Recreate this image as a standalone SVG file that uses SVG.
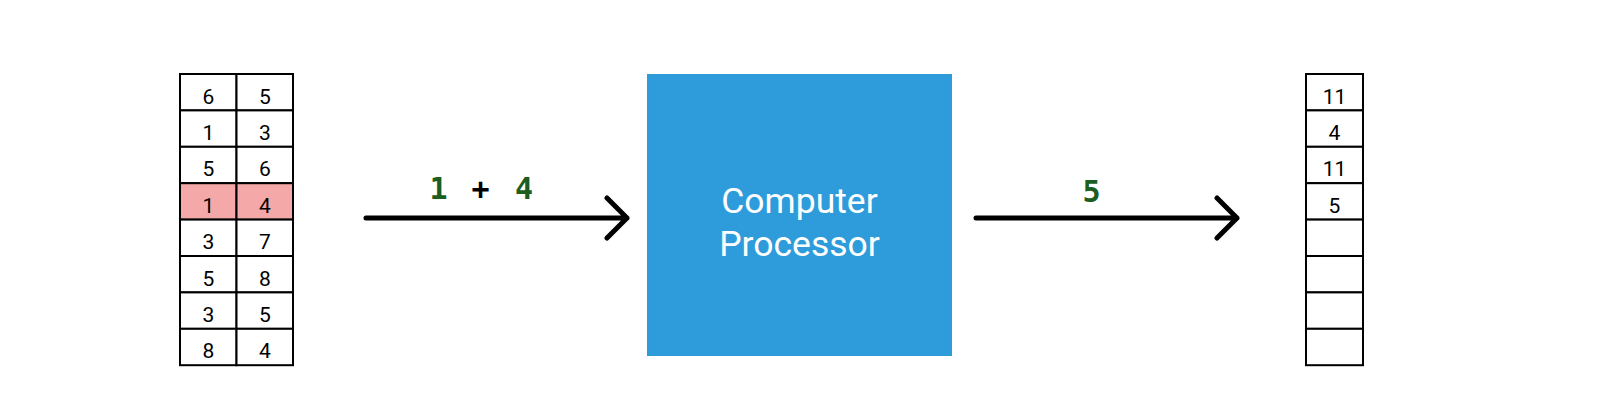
<svg xmlns="http://www.w3.org/2000/svg" width="1600" height="400" viewBox="0 0 1600 400">
<style>
.cell{fill:#fff;stroke:#000;stroke-width:2}
.hl{fill:#F4A9A8;stroke:#000;stroke-width:2}
.num{font-family:Roboto,"Liberation Sans",sans-serif;font-size:21px;fill:#000;text-anchor:middle}
.conn{stroke:#000;stroke-width:5;fill:none;stroke-linecap:round;stroke-linejoin:round}
.lbl{font-family:"DejaVu Sans Mono","Liberation Mono",monospace;font-weight:bold;font-size:30px;text-anchor:middle}
</style>
<rect width="1600" height="400" fill="#fff"/>
<g id="input-table">
<rect class="cell" x="180" y="74" width="56.5" height="36.4"/><rect class="cell" x="236.5" y="74" width="56.5" height="36.4"/>
<rect class="cell" x="180" y="110.4" width="56.5" height="36.4"/><rect class="cell" x="236.5" y="110.4" width="56.5" height="36.4"/>
<rect class="cell" x="180" y="146.8" width="56.5" height="36.4"/><rect class="cell" x="236.5" y="146.8" width="56.5" height="36.4"/>
<rect class="hl" x="180" y="183.2" width="56.5" height="36.4"/><rect class="hl" x="236.5" y="183.2" width="56.5" height="36.4"/>
<rect class="cell" x="180" y="219.6" width="56.5" height="36.4"/><rect class="cell" x="236.5" y="219.6" width="56.5" height="36.4"/>
<rect class="cell" x="180" y="256" width="56.5" height="36.4"/><rect class="cell" x="236.5" y="256" width="56.5" height="36.4"/>
<rect class="cell" x="180" y="292.4" width="56.5" height="36.4"/><rect class="cell" x="236.5" y="292.4" width="56.5" height="36.4"/>
<rect class="cell" x="180" y="328.8" width="56.5" height="36.4"/><rect class="cell" x="236.5" y="328.8" width="56.5" height="36.4"/>
<text class="num" x="208.5" y="103.5">6</text><text class="num" x="265" y="103.5">5</text>
<text class="num" x="208.5" y="139.9">1</text><text class="num" x="265" y="139.9">3</text>
<text class="num" x="208.5" y="176.3">5</text><text class="num" x="265" y="176.3">6</text>
<text class="num" x="208.5" y="212.7">1</text><text class="num" x="265" y="212.7">4</text>
<text class="num" x="208.5" y="249.1">3</text><text class="num" x="265" y="249.1">7</text>
<text class="num" x="208.5" y="285.5">5</text><text class="num" x="265" y="285.5">8</text>
<text class="num" x="208.5" y="321.9">3</text><text class="num" x="265" y="321.9">5</text>
<text class="num" x="208.5" y="358.3">8</text><text class="num" x="265" y="358.3">4</text>
</g>
<g id="processor">
<rect x="647" y="74" width="305" height="282" fill="#2E9CDB"/>
<text x="799.5" y="213" font-family="Roboto,'Liberation Sans',sans-serif" font-size="35.5" fill="#fff" text-anchor="middle">Computer</text>
<text x="799.5" y="256" font-family="Roboto,'Liberation Sans',sans-serif" font-size="35.5" fill="#fff" text-anchor="middle">Processor</text>
</g>
<g id="output-table">
<rect class="cell" x="1306" y="74" width="57" height="36.4"/>
<rect class="cell" x="1306" y="110.4" width="57" height="36.4"/>
<rect class="cell" x="1306" y="146.8" width="57" height="36.4"/>
<rect class="cell" x="1306" y="183.2" width="57" height="36.4"/>
<rect class="cell" x="1306" y="219.6" width="57" height="36.4"/>
<rect class="cell" x="1306" y="256" width="57" height="36.4"/>
<rect class="cell" x="1306" y="292.4" width="57" height="36.4"/>
<rect class="cell" x="1306" y="328.8" width="57" height="36.4"/>
<text class="num" x="1334.5" y="103.5">11</text>
<text class="num" x="1334.5" y="139.9">4</text>
<text class="num" x="1334.5" y="176.3">11</text>
<text class="num" x="1334.5" y="212.7">5</text>
</g>
<g id="connectors">
<path class="conn" d="M366 218 H627 M607 198 L627 218 L607 238"/>
<path class="conn" d="M976 218 H1237 M1217 198 L1237 218 L1217 238"/>
<text class="lbl" x="438.5" y="199" fill="#1B5E20">1</text>
<text class="lbl" x="480.5" y="199" fill="#000">+</text>
<text class="lbl" x="524" y="199" fill="#1B5E20">4</text>
<text class="lbl" x="1091.5" y="202" fill="#1B5E20">5</text>
</g>
</svg>
